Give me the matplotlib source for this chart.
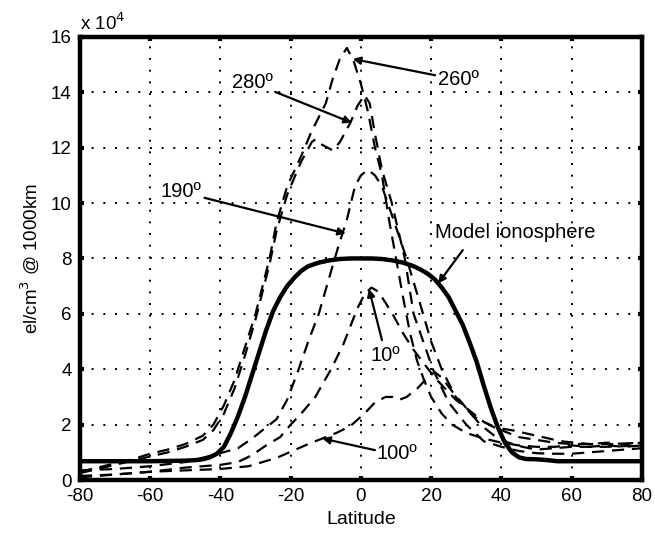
import matplotlib
matplotlib.use("Agg")
import matplotlib.pyplot as plt

plt.rcParams['font.family'] = ['Liberation Sans', 'DejaVu Sans']
plt.rcParams['axes.unicode_minus'] = False

# Model ionosphere (solid)
model_lat = [-80, -60, -50, -47, -45, -43, -41, -39, -37, -35, -33, -31, -29, -27, -25, -23, -21, -19, -17, -15,
             -12, -9, -6, -3, 0, 3, 6, 9, 12, 15, 17, 19, 21, 23, 25, 27, 29, 31, 33, 35, 37, 39, 41, 43, 45,
             47, 50, 53, 56, 60, 70, 80]
model_val = [0.68, 0.68, 0.70, 0.72, 0.75, 0.82, 0.95, 1.2, 1.7, 2.3, 3.0, 3.8, 4.6, 5.4, 6.1, 6.6, 7.0, 7.3, 7.55, 7.72,
             7.85, 7.93, 7.98, 8.0, 8.0, 8.0, 7.98, 7.93, 7.85, 7.72, 7.6, 7.45, 7.25, 6.95, 6.6, 6.1, 5.6, 4.95, 4.25, 3.4, 2.6, 1.9, 1.35, 1.0, 0.82,
             0.76, 0.75, 0.72, 0.68, 0.68, 0.68, 0.68]

# Dashed observation curves (values x 1e4)
lat_260 = [-80, -75, -70, -65, -60, -55, -50, -45, -42, -39, -36, -33, -30, -28, -26, -24, -21, -17, -14, -12,
           -10, -8, -6, -4, -2, 0, 2, 4, 6, 8, 10, 12, 14, 16, 18, 20, 23, 26, 30, 35, 40, 45, 50, 55, 60, 65, 70, 75, 80]
val_260 = [0.3, 0.45, 0.6, 0.75, 0.95, 1.1, 1.3, 1.6, 2.0, 2.7, 3.6, 4.8, 6.0, 7.0, 8.0, 9.3, 10.6, 11.7, 12.6, 13.1,
           13.6, 14.5, 15.2, 15.6, 15.1, 14.3, 13.3, 12.0, 11.0, 9.4, 8.0, 6.6, 5.3, 4.3, 3.6, 3.0, 2.4, 2.0, 1.7, 1.5, 1.35, 1.25, 1.2, 1.2, 1.25, 1.2, 1.25, 1.2, 1.25]

lat_280 = [-80, -75, -70, -65, -60, -55, -50, -45, -42, -39, -36, -33, -30, -28, -26, -24, -21, -17, -14, -13,
           -11, -8, -6, -3, -1, 1, 2.5, 4, 6, 8.8, 12.5, 15, 20.5, 25, 30, 35, 40, 45, 50, 55, 60, 65, 70, 75, 80]
val_280 = [0.25, 0.4, 0.55, 0.7, 0.85, 1.0, 1.2, 1.45, 1.8, 2.4, 3.3, 4.5, 5.8, 6.8, 7.8, 9.0, 10.3, 11.5, 12.2, 12.3,
           12.1, 11.9, 12.2, 12.9, 13.5, 13.9, 13.6, 12.5, 11.2, 10.0, 8.0, 6.0, 4.0, 2.8, 2.0, 1.4, 1.2, 1.05, 0.97, 0.95, 0.95, 1.0, 1.05, 1.1, 1.15]

lat_190 = [-80, -70, -60, -50, -42, -35, -31, -28, -24, -21, -18, -15, -12, -9.5, -6.5, -4, -1.7, 0, 2, 4, 6,
           9, 13, 17, 20, 23, 27, 32, 38, 43, 50, 57, 65, 72, 80]
val_190 = [0.35, 0.4, 0.5, 0.65, 0.9, 1.15, 1.5, 1.8, 2.2, 2.9, 3.9, 5.0, 6.0, 7.1, 8.4, 9.4, 10.6, 11.0, 11.2, 11.0, 10.6,
           9.5, 8.0, 6.3, 5.0, 4.0, 3.0, 2.3, 1.9, 1.8, 1.6, 1.4, 1.3, 1.3, 1.35]

lat_10 = [-80, -70, -60, -50, -40, -35, -31, -27, -23, -20, -17, -13, -8.5, -5, -1, 1, 3, 5, 7, 9, 12, 15,
          18, 21, 24, 27, 31, 35, 40, 45, 50, 55, 60, 65, 70, 75, 80]
val_10 = [0.15, 0.2, 0.3, 0.45, 0.55, 0.65, 0.9, 1.25, 1.55, 2.0, 2.4, 3.0, 4.0, 4.9, 6.2, 6.7, 6.95, 6.8, 6.4, 6.0, 5.3, 4.7,
          4.2, 3.7, 3.3, 2.9, 2.5, 2.1, 1.8, 1.55, 1.45, 1.35, 1.3, 1.3, 1.35, 1.3, 1.35]

lat_100 = [-80, -70, -60, -50, -40, -32, -24, -15, -7, -3, 1, 4, 7, 9, 11, 13, 16, 19, 21, 23, 26, 30, 34,
           38, 42, 46, 50, 55, 60, 70, 80]
val_100 = [0.1, 0.2, 0.3, 0.35, 0.4, 0.5, 0.8, 1.3, 1.7, 1.95, 2.4, 2.8, 3.0, 3.0, 2.9, 3.0, 3.3, 3.7, 3.9, 3.7, 3.2, 2.6, 2.0,
           1.6, 1.35, 1.2, 1.1, 1.15, 1.2, 1.2, 1.25]

xticks = [-80, -60, -40, -20, 0, 20, 40, 60, 80]
yticks = [0, 2, 4, 6, 8, 10, 12, 14, 16]

fig = plt.figure(figsize=(6.55, 5.34), dpi=100)
ax = fig.add_axes([0.122, 0.101, 0.858, 0.830])

dash = (0, (5.5, 3.5))
for la, va in [(lat_260, val_260), (lat_280, val_280), (lat_190, val_190), (lat_10, val_10), (lat_100, val_100)]:
    ax.plot(la, va, color='k', lw=1.6, linestyle=dash)
ax.plot(model_lat, model_val, color='k', lw=3.2, solid_capstyle='butt', solid_joinstyle='round')

ax.set_xlim(-80, 80)
ax.set_ylim(0, 16)
ax.set_xticks(xticks)
ax.set_yticks(yticks)
ax.grid(True, color='k', linestyle=(0, (1, 5)), lw=1.4)
ax.tick_params(direction='in', top=True, right=True, length=3, width=3, labelsize=13.5, pad=6)
for s in ax.spines.values():
    s.set_linewidth(3.2)

ax.set_xlabel('Latitude', fontsize=14, labelpad=4)
ax.set_ylabel(r'el/cm$^3$ @ 1000km', fontsize=13.5, labelpad=7)
ax.text(0.0, 1.006, r'x 10$^4$', transform=ax.transAxes, fontsize=13.5, ha='left', va='bottom')

ap = dict(arrowstyle='-|>', lw=1.6, color='k', mutation_scale=11, shrinkA=0, shrinkB=0)
fs = 14.5
ax.annotate('280º', xy=(-2.6, 12.9), xytext=(-25.2, 14.35), fontsize=fs, ha='right', va='center', arrowprops=ap)
ax.annotate('260º', xy=(-2.3, 15.2), xytext=(21.9, 14.45), fontsize=fs, ha='left', va='center', arrowprops=ap)
ax.annotate('190º', xy=(-4.3, 8.9), xytext=(-45.3, 10.4), fontsize=fs, ha='right', va='center', arrowprops=ap)
ax.annotate('', xy=(22, 7.1), xytext=(29, 8.3), arrowprops=ap)
ax.text(44.0, 8.95, 'Model ionosphere', fontsize=fs, ha='center', va='center')
ax.annotate('', xy=(2.3, 6.9), xytext=(6, 5.05), arrowprops=ap)
ax.text(7, 4.5, '10º', fontsize=fs, ha='center', va='center')
ax.annotate('', xy=(-11, 1.5), xytext=(4, 1.08), arrowprops=ap)
ax.text(4.3, 0.97, '100º', fontsize=fs, ha='left', va='center')

fig.savefig('out.png', dpi=100)
